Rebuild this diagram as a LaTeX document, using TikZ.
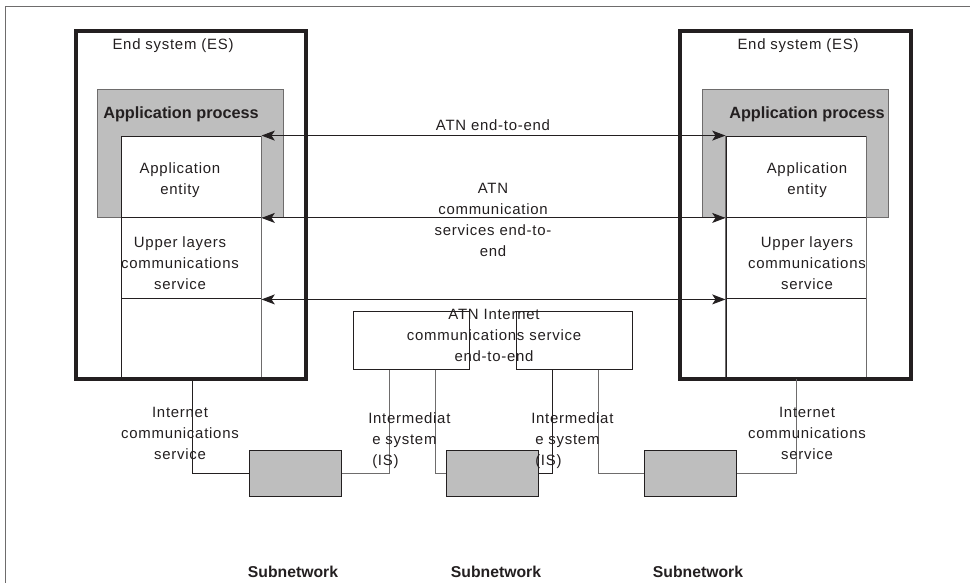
\documentclass[tikz,border=0pt]{standalone}
\usepackage{fontspec}
\setmainfont{Liberation Sans}
\newfontfamily\lab[LetterSpace=5]{Liberation Sans}
\usetikzlibrary{arrows.meta}
\definecolor{ink}{HTML}{231F20}
\definecolor{midline}{HTML}{6E6C6C}
\definecolor{panel}{HTML}{BEBEBE}
\tikzset{
  x=0.75pt,y=-0.75pt,
  box/.style={draw=ink,line width=0.75pt,inner sep=0pt,fill=white},
  es/.style={draw=none,inner sep=0pt,fill=white,minimum width=172.5pt,minimum height=261pt},
  esline/.style={draw=ink,line width=2.8pt},
  gproc/.style={draw=midline,line width=0.75pt,inner sep=0pt,fill=panel,minimum width=140pt,minimum height=95.5pt},
  layer/.style={box,minimum width=105pt},
  isbox/.style={box,minimum width=87pt,minimum height=43.5pt},
  snet/.style={draw=ink,line width=0.75pt,inner sep=0pt,fill=panel,minimum width=69pt,minimum height=35pt},
  wire/.style={draw=ink,line width=0.75pt},
  greywire/.style={draw=midline,line width=0.75pt},
  span/.style={wire,{Stealth[length=10pt,width=7.5pt,inset=2.5pt]}-{Stealth[length=10pt,width=7.5pt,inset=2.5pt]}},
  txt/.style={inner sep=0pt,text=ink,font=\fontsize{11.2}{15.75}\selectfont\lab,align=center},
  txtl/.style={txt,align=left},
  bld/.style={inner sep=0pt,text=ink,font=\fontsize{12.2}{14}\selectfont\bfseries},
  bldsub/.style={inner sep=0pt,text=ink,font=\fontsize{11.8}{14}\selectfont\bfseries},
}
\begin{document}
\begin{tikzpicture}
\useasboundingbox (0,0) rectangle (970,583);
\fill[white] (0,0) rectangle (970,583);
\draw[draw=midline,line width=1pt] (970,6.5) -- (5.5,6.5) -- (5.5,583);
% end systems
\node[es] (esL) at (191,205) {};
\node[es] (esR) at (795.5,205) {};
\node[gproc] (apL) at (190.5,153.5) {};
\node[gproc] (apR) at (795.5,153.5) {};
\node[layer,minimum height=61pt] (aeL) at (191,176.75) {};
\node[layer,minimum height=61pt] (aeR) at (796,176.75) {};
\node[layer,minimum height=61pt] (ulL) at (191,258.25) {};
\node[layer,minimum height=61pt] (ulR) at (796,258.25) {};
\node[layer,minimum height=61pt] (loL) at (191,339.5) {};
\node[layer,minimum height=61pt] (loR) at (796,339.5) {};
\draw[greywire] (aeL.north east) -- (loL.south east);
\draw[greywire] (aeR.north east) -- (loR.south east);
\draw[greywire] (aeR.north west) -- (loR.south west);
\draw[esline] (esL.south west) rectangle (esL.north east);
\draw[esline] (esR.south west) rectangle (esR.north east);
% intermediate systems and subnetworks
\node[isbox] (isL) at (411,340) {};
\node[isbox] (isR) at (574.5,340) {};
\node[snet] (s1) at (295,473.5) {};
\node[snet] (s2) at (492.5,473.5) {};
\node[snet] (s3) at (690.5,473.5) {};
% connectors
\draw[span] (aeL.north east) -- (aeR.north west);
\draw[span] (aeL.south east) -- (aeR.south west);
\draw[span] (ulL.south east) -- (ulR.south west);
\coordinate (c1) at (192,473.5);
\coordinate (c2) at (389,473.5);
\coordinate (c3) at (435,473.5);
\coordinate (c4) at (552,473.5);
\coordinate (c5) at (598,473.5);
\coordinate (c6) at (796,473.5);
\draw[wire] (esL.south -| c1) -- (c1) -- (s1.west);
\draw[greywire] (s1.east) -- (c2) -- (isL.south -| c2);
\draw[greywire] (isL.south -| c3) -- (c3) -- (s2.west);
\draw[wire] (s2.east) -- (c4) -- (isR.south -| c4);
\draw[greywire] (isR.south -| c5) -- (c5) -- (s3.west);
\draw[greywire] (s3.east) -- (c6) -- (esR.south -| c6);
% labels
\node[txt] (t1) at (173,46) {End system (ES)};
\node[txt] (t2) at (798,46) {End system (ES)};
\node[bld] (t3) at (181,114) {Application process};
\node[bld] (t4) at (807,114) {Application process};
\node[txt] (t5) at (180,180) {Application\\entity};
\node[txt] (t6) at (807,180) {Application\\entity};
\node[txt] (t7) at (180,263) {Upper layers\\communications\\service};
\node[txt] (t8) at (807,263) {Upper layers\\communications\\service};
\node[txt] (t9) at (493,125) {ATN end-to-end};
\node[txt] (t10) at (493,219.5) {ATN\\communication\\services end-to-\\end};
\node[txt] (t11) at (494,335) {ATN Internet\\communications service\\end-to-end};
\node[txt] (t12) at (180,433) {Internet\\communications\\service};
\node[txt] (t13) at (807,433) {Internet\\communications\\service};
\node[txtl,anchor=west] (t14) at (368,441) {Intermediat\\\hspace*{3pt}e system\\\hspace*{3pt}(IS)};
\node[txtl,anchor=west] (t15) at (531,441) {Intermediat\\\hspace*{3pt}e system\\\hspace*{3pt}(IS)};
\node[bldsub] (t16) at (293,572) {Subnetwork};
\node[bldsub] (t17) at (496,572) {Subnetwork};
\node[bldsub] (t18) at (698,572) {Subnetwork};
\end{tikzpicture}
\end{document}
